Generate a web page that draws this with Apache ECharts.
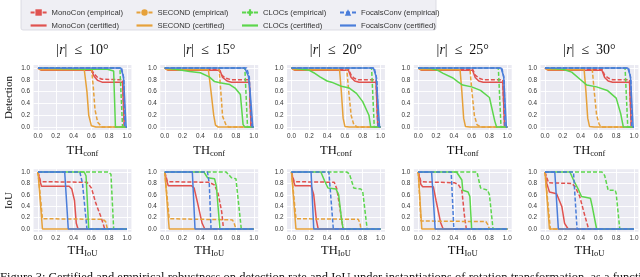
<!DOCTYPE html>
<html><head><meta charset="utf-8">
<script src="https://cdn.jsdelivr.net/npm/echarts@6/dist/echarts.min.js"></script>
<style>html,body{margin:0;padding:0;background:#fff}#c{width:640px;height:277px}</style>
</head><body><div id="c"></div><script>
// ---------- labels ----------
const methods = ['MonoCon', 'SECOND', 'CLOCs', 'FocalsConv'];
const angles = ['10', '15', '20', '25', '30'];
const xTicks = [0, 0.2, 0.4, 0.6, 0.8, 1.0];
const yTicks = [0, 0.2, 0.4, 0.6, 0.8, 1.0];
const rowNames = ['Detection', 'IoU'];
const xNameSubs = ['conf', 'IoU'];
const caption = 'Figure 3: Certified and empirical robustness on detection rate and IoU under instantiations of rotation transformation, as a function of the thresholds.';

// ---------- Detection row (x = TH_conf) ----------
const det10MonoEmp  = [[0,1],[0.05,0.98],[0.6,0.98],[0.63,0.9],[0.67,0.84],[0.72,0.81],[0.95,0.8],[0.97,0],[1,0]];
const det10MonoCert = [[0,1],[0.04,0.96],[0.6,0.96],[0.63,0.86],[0.67,0.79],[0.72,0.76],[0.95,0.76],[0.97,0],[1,0]];
const det10SecEmp   = [[0,1],[0.6,1],[0.62,0.7],[0.64,0.3],[0.67,0.08],[0.72,0],[1,0]];
const det10SecCert  = [[0,1],[0.03,0.97],[0.52,0.97],[0.55,0.6],[0.57,0.2],[0.6,0.02],[0.65,0],[1,0]];
const det10ClocsEmp = [[0,1],[0.92,1],[0.95,0],[1,0]];
const det10ClocsCert= [[0,1],[0.55,0.98],[0.78,0.98],[0.85,0.95],[0.87,0],[1,0]];
const det10FocEmp   = [[0,1],[0.94,1],[0.965,0.8],[0.975,0],[1,0]];
const det10FocCert  = [[0,1],[0.93,1],[0.96,0.86],[0.99,0],[1,0]];

const det15MonoEmp  = [[0,1],[0.05,0.98],[0.6,0.98],[0.64,0.88],[0.68,0.83],[0.75,0.8],[0.95,0.8],[0.97,0],[1,0]];
const det15MonoCert = [[0,1],[0.04,0.96],[0.62,0.96],[0.65,0.84],[0.7,0.78],[0.75,0.76],[0.95,0.76],[0.97,0],[1,0]];
const det15SecEmp   = [[0,1],[0.61,1],[0.63,0.6],[0.65,0.18],[0.69,0.03],[0.72,0],[1,0]];
const det15SecCert  = [[0,1],[0.03,0.97],[0.49,0.97],[0.52,0.6],[0.55,0.2],[0.57,0.03],[0.6,0],[1,0]];
const det15ClocsEmp = [[0,1],[0.9,1],[0.93,0],[1,0]];
const det15ClocsCert= [[0,1],[0.12,0.98],[0.28,0.94],[0.4,0.92],[0.5,0.85],[0.56,0.77],[0.62,0.75],[0.73,0.72],[0.79,0.66],[0.85,0.55],[0.88,0.04],[0.9,0],[1,0]];
const det15FocEmp   = [[0,1],[0.92,1],[0.95,0.85],[0.97,0.2],[0.98,0],[1,0]];
const det15FocCert  = [[0,1],[0.9,1],[0.94,0.86],[0.96,0.58],[0.99,0],[1,0]];

const det20MonoEmp  = [[0,1],[0.05,0.98],[0.64,0.98],[0.67,0.88],[0.7,0.83],[0.75,0.8],[0.95,0.8],[0.97,0],[1,0]];
const det20MonoCert = [[0,1],[0.04,0.96],[0.64,0.96],[0.67,0.84],[0.71,0.78],[0.76,0.76],[0.95,0.76],[0.97,0],[1,0]];
const det20SecEmp   = [[0,1],[0.62,1],[0.64,0.65],[0.67,0.2],[0.7,0.04],[0.74,0],[1,0]];
const det20SecCert  = [[0,1],[0.03,0.97],[0.54,0.97],[0.56,0.6],[0.58,0.15],[0.6,0.01],[0.65,0],[1,0]];
const det20ClocsEmp = [[0,1],[0.9,1],[0.93,0],[1,0]];
const det20ClocsCert= [[0,1],[0.12,0.98],[0.2,0.96],[0.25,0.92],[0.32,0.85],[0.4,0.78],[0.45,0.76],[0.56,0.69],[0.65,0.66],[0.73,0.57],[0.8,0.43],[0.87,0.2],[0.89,0],[1,0]];
const det20FocEmp   = [[0,1],[0.93,1],[0.96,0.8],[0.975,0],[1,0]];
const det20FocCert  = [[0,1],[0.92,1],[0.95,0.86],[0.99,0],[1,0]];

const det25MonoEmp  = [[0,1],[0.05,0.98],[0.61,0.98],[0.64,0.88],[0.68,0.83],[0.73,0.8],[0.95,0.8],[0.97,0],[1,0]];
const det25MonoCert = [[0,1],[0.04,0.96],[0.61,0.96],[0.64,0.84],[0.68,0.78],[0.73,0.76],[0.95,0.76],[0.97,0],[1,0]];
const det25SecEmp   = [[0,1],[0.58,1],[0.6,0.65],[0.63,0.2],[0.66,0.04],[0.7,0],[1,0]];
const det25SecCert  = [[0,1],[0.03,0.97],[0.47,0.97],[0.49,0.6],[0.51,0.15],[0.53,0.01],[0.58,0],[1,0]];
const det25ClocsEmp = [[0,1],[0.9,1],[0.93,0],[1,0]];
const det25ClocsCert= [[0,1],[0.15,0.99],[0.22,0.96],[0.28,0.91],[0.39,0.83],[0.45,0.76],[0.5,0.71],[0.6,0.68],[0.7,0.62],[0.8,0.5],[0.86,0.1],[0.88,0],[1,0]];
const det25FocEmp   = [[0,1],[0.94,1],[0.965,0.8],[0.975,0],[1,0]];
const det25FocCert  = [[0,1],[0.93,1],[0.96,0.86],[0.99,0],[1,0]];

const det30MonoEmp  = [[0,1],[0.05,0.98],[0.64,0.98],[0.67,0.88],[0.71,0.83],[0.76,0.8],[0.95,0.8],[0.97,0],[1,0]];
const det30MonoCert = [[0,1],[0.04,0.96],[0.64,0.96],[0.67,0.84],[0.71,0.78],[0.76,0.76],[0.95,0.76],[0.97,0],[1,0]];
const det30SecEmp   = [[0,1],[0.53,1],[0.55,0.65],[0.58,0.2],[0.61,0.04],[0.64,0],[1,0]];
const det30SecCert  = [[0,1],[0.03,0.97],[0.44,0.97],[0.46,0.6],[0.48,0.15],[0.5,0.01],[0.55,0],[1,0]];
const det30ClocsEmp = [[0,1],[0.9,1],[0.93,0],[1,0]];
const det30ClocsCert= [[0,1],[0.2,0.98],[0.3,0.93],[0.4,0.8],[0.47,0.71],[0.58,0.68],[0.7,0.62],[0.8,0.49],[0.85,0.23],[0.88,0],[1,0]];
const det30FocEmp   = [[0,1],[0.94,1],[0.965,0.8],[0.975,0],[1,0]];
const det30FocCert  = [[0,1],[0.93,1],[0.96,0.86],[0.99,0],[1,0]];

// ---------- IoU row (x = TH_IoU) ----------
const iou10MonoEmp  = [[0,1],[0.03,0.83],[0.05,0.82],[0.55,0.82],[0.6,0.72],[0.65,0.45],[0.71,0.2],[0.75,0],[1,0]];
const iou10MonoCert = [[0,1],[0.02,0.85],[0.04,0.75],[0.35,0.75],[0.38,0.7],[0.41,0.5],[0.43,0.1],[0.45,0],[1,0]];
const iou10SecEmp   = [[0,1],[0.05,0.18],[0.73,0.17],[0.76,0.13],[0.78,0],[1,0]];
const iou10SecCert  = [[0,1],[0.05,0],[1,0]];
const iou10ClocsEmp = [[0,1],[0.79,1],[0.82,0.96],[0.85,0],[1,0]];
const iou10ClocsCert= [[0,1],[0.52,1],[0.54,0.93],[0.57,0],[1,0]];
const iou10FocEmp   = [[0,1],[0.47,1],[0.5,0.8],[0.55,0],[1,0]];
const iou10FocCert  = [[0,1],[0.3,1],[0.34,0],[1,0]];

const iou15MonoEmp  = [[0,1],[0.03,0.83],[0.05,0.82],[0.5,0.82],[0.56,0.77],[0.6,0.62],[0.64,0.3],[0.66,0],[1,0]];
const iou15MonoCert = [[0,1],[0.02,0.85],[0.04,0.76],[0.3,0.76],[0.33,0.72],[0.37,0.45],[0.42,0.1],[0.45,0],[1,0]];
const iou15SecEmp   = [[0,1],[0.05,0.18],[0.76,0.16],[0.78,0.1],[0.8,0],[1,0]];
const iou15SecCert  = [[0,1],[0.05,0],[1,0]];
const iou15ClocsEmp = [[0,1],[0.69,1],[0.75,0.9],[0.8,0.88],[0.82,0.85],[0.86,0],[1,0]];
const iou15ClocsCert= [[0,1],[0.44,1],[0.48,0.9],[0.56,0.88],[0.58,0.75],[0.62,0],[1,0]];
const iou15FocEmp   = [[0,1],[0.48,1],[0.5,0.8],[0.52,0],[1,0]];
const iou15FocCert  = [[0,1],[0.31,1],[0.34,0],[1,0]];

const iou20MonoEmp  = [[0,1],[0.03,0.83],[0.05,0.82],[0.48,0.82],[0.51,0.7],[0.56,0.2],[0.58,0],[1,0]];
const iou20MonoCert = [[0,1],[0.02,0.85],[0.04,0.76],[0.22,0.76],[0.25,0.6],[0.28,0.15],[0.3,0],[1,0]];
const iou20SecEmp   = [[0,1],[0.05,0.18],[0.75,0.17],[0.77,0.1],[0.78,0],[1,0]];
const iou20SecCert  = [[0,1],[0.05,0],[1,0]];
const iou20ClocsEmp = [[0,1],[0.62,1],[0.65,0.97],[0.7,0.72],[0.78,0.7],[0.8,0.66],[0.85,0],[1,0]];
const iou20ClocsCert= [[0,1],[0.33,1],[0.37,0.85],[0.41,0.72],[0.5,0.7],[0.53,0.6],[0.56,0.2],[0.58,0],[1,0]];
const iou20FocEmp   = [[0,1],[0.42,1],[0.44,0.6],[0.47,0],[1,0]];
const iou20FocCert  = [[0,1],[0.22,1],[0.25,0],[1,0]];

const iou25MonoEmp  = [[0,1],[0.03,0.83],[0.05,0.81],[0.41,0.81],[0.45,0.78],[0.49,0.68],[0.52,0.22],[0.54,0],[1,0]];
const iou25MonoCert = [[0,1],[0.03,0.78],[0.05,0.74],[0.17,0.74],[0.2,0.5],[0.25,0.12],[0.28,0],[1,0]];
const iou25SecEmp   = [[0,1],[0.03,0.14],[0.76,0.13],[0.78,0.08],[0.8,0],[1,0]];
const iou25SecCert  = [[0,1],[0.04,0],[1,0]];
const iou25ClocsEmp = [[0,1],[0.66,1],[0.7,0.72],[0.78,0.68],[0.8,0.6],[0.84,0],[1,0]];
const iou25ClocsCert= [[0,1],[0.43,1],[0.49,0.86],[0.5,0.68],[0.56,0.65],[0.58,0.57],[0.6,0],[1,0]];
const iou25FocEmp   = [[0,1],[0.37,1],[0.4,0],[1,0]];
const iou25FocCert  = [[0,1],[0.15,1],[0.19,0],[1,0]];

const iou30MonoEmp  = [[0,1],[0.04,0.81],[0.3,0.8],[0.34,0.74],[0.39,0.57],[0.45,0.22],[0.49,0],[1,0]];
const iou30MonoCert = [[0,1],[0.02,0.8],[0.05,0.65],[0.13,0.62],[0.19,0.39],[0.22,0.1],[0.26,0],[1,0]];
const iou30SecEmp   = [[0,1],[0.06,0],[1,0]];
const iou30SecCert  = [[0,1],[0.05,0],[1,0]];
const iou30ClocsEmp = [[0,1],[0.64,1],[0.67,0.94],[0.71,0.68],[0.79,0.68],[0.8,0.62],[0.84,0],[1,0]];
const iou30ClocsCert= [[0,1],[0.28,1],[0.32,0.86],[0.37,0.71],[0.41,0.57],[0.43,0.54],[0.51,0.54],[0.53,0.4],[0.58,0],[1,0]];
const iou30FocEmp   = [[0,1],[0.32,1],[0.36,0],[1,0]];
const iou30FocCert  = [[0,1],[0.11,1],[0.15,0],[1,0]];

const panels = [
  [det10MonoEmp,det10MonoCert,det10SecEmp,det10SecCert,det10ClocsEmp,det10ClocsCert,det10FocEmp,det10FocCert],
  [det15MonoEmp,det15MonoCert,det15SecEmp,det15SecCert,det15ClocsEmp,det15ClocsCert,det15FocEmp,det15FocCert],
  [det20MonoEmp,det20MonoCert,det20SecEmp,det20SecCert,det20ClocsEmp,det20ClocsCert,det20FocEmp,det20FocCert],
  [det25MonoEmp,det25MonoCert,det25SecEmp,det25SecCert,det25ClocsEmp,det25ClocsCert,det25FocEmp,det25FocCert],
  [det30MonoEmp,det30MonoCert,det30SecEmp,det30SecCert,det30ClocsEmp,det30ClocsCert,det30FocEmp,det30FocCert],
  [iou10MonoEmp,iou10MonoCert,iou10SecEmp,iou10SecCert,iou10ClocsEmp,iou10ClocsCert,iou10FocEmp,iou10FocCert],
  [iou15MonoEmp,iou15MonoCert,iou15SecEmp,iou15SecCert,iou15ClocsEmp,iou15ClocsCert,iou15FocEmp,iou15FocCert],
  [iou20MonoEmp,iou20MonoCert,iou20SecEmp,iou20SecCert,iou20ClocsEmp,iou20ClocsCert,iou20FocEmp,iou20FocCert],
  [iou25MonoEmp,iou25MonoCert,iou25SecEmp,iou25SecCert,iou25ClocsEmp,iou25ClocsCert,iou25FocEmp,iou25FocCert],
  [iou30MonoEmp,iou30MonoCert,iou30SecEmp,iou30SecCert,iou30ClocsEmp,iou30ClocsCert,iou30FocEmp,iou30FocCert]
];

// ---------- style / layout ----------
const colors = ['#E0524F', '#E6A13A', '#5CD64C', '#4A7DDA'];
const symbols = ['rect', 'circle', 'path://M2,0h2v2h2v2h-2v2h-2v-2h-2v-2h2z', 'triangle'];
const X0 = 38, DX = 126.75, W = 89;
const rowY1 = [68, 172], rowY0 = [127, 229];
const serif = 'Liberation Serif';
const sans = 'Liberation Sans';

const grids = [], xAxes = [], yAxes = [], series = [], graphics = [];
for (let r = 0; r < 2; r++) {
  for (let c = 0; c < 5; c++) {
    const p = r * 5 + c;
    const H = rowY0[r] - rowY1[r];
    grids.push({
      left: X0 + c * DX - 0.05 * W, width: 1.1 * W,
      top: rowY1[r] - 0.05 * H, height: 1.1 * H,
      show: true, backgroundColor: '#EAEAF2', borderWidth: 0,
      containLabel: false, outerBoundsMode: 'none'
    });
    xAxes.push({
      type: 'value', gridIndex: p, min: -0.05, max: 1.05,
      axisLine: { show: false, onZero: false },
      axisTick: { show: false, customValues: xTicks },
      axisLabel: { customValues: xTicks, formatter: v => v.toFixed(1), fontSize: 6.4, color: '#333', fontFamily: sans, margin: 3 },
      splitLine: { show: true, lineStyle: { color: '#fff', width: 0.9 } },
      name: '{a|TH}{b|' + xNameSubs[r] + '}', nameLocation: 'middle', nameGap: r === 0 ? 13 : 11,
      nameTextStyle: { rich: {
        a: { fontFamily: serif, fontSize: 12.5, color: '#111' },
        b: { fontFamily: serif, fontSize: 8.5, color: '#111', padding: [6, 0, 0, 0] }
      } }
    });
    yAxes.push({
      type: 'value', gridIndex: p, min: -0.05, max: 1.05,
      axisLine: { show: false, onZero: false },
      axisTick: { show: false, customValues: yTicks },
      axisLabel: { customValues: yTicks, formatter: v => v.toFixed(1), fontSize: 6.4, color: '#333', fontFamily: sans, margin: 3.5 },
      splitLine: { show: true, lineStyle: { color: '#fff', width: 0.9 } },
      name: c === 0 ? rowNames[r] : '', nameLocation: 'middle', nameGap: 19, nameRotate: 90,
      nameTextStyle: { fontFamily: serif, fontSize: 11, color: '#111' }
    });
    panels[p].forEach((d, k) => {
      const m = k >> 1, emp = (k % 2 === 0);
      series.push({
        type: 'line', name: methods[m] + (emp ? ' (empirical)' : ' (certified)'),
        xAxisIndex: p, yAxisIndex: p, data: d,
        symbol: emp ? symbols[m] : 'none', showSymbol: false, symbolSize: 6,
        lineStyle: { color: colors[m], width: 1.5, type: emp ? [4, 2] : 'solid' },
        itemStyle: { color: colors[m] },
        animation: false, silent: true, clip: false
      });
    });
  }
}

// titles
angles.forEach((a, c) => {
  graphics.push({
    type: 'text', x: X0 + c * DX + W / 2, y: 50,
    style: {
      text: '{n||}{i|r}{n||  ≤  ' + a + '°}',
      textAlign: 'center', textVerticalAlign: 'middle',
      rich: {
        n: { fontFamily: serif, fontSize: 14, fill: '#111' },
        i: { fontFamily: serif, fontSize: 14, fontStyle: 'italic', fill: '#111' }
      }
    }
  });
});
// legend frame
graphics.push({
  type: 'rect', z: -1, shape: { x: 21, y: -3, width: 415, height: 33, r: 2 },
  style: { fill: '#EFEFF4', stroke: '#D6D6DE', lineWidth: 0.8 }
});
// caption (cut by the figure bottom)
graphics.push({
  type: 'text', x: 0, y: 271,
  style: { text: caption, fontFamily: serif, fontSize: 12.5, fill: '#111', textVerticalAlign: 'top' }
});

const legendLeft = [24.6, 130.5, 236, 334];
const legends = methods.map((m, i) => ({
  orient: 'vertical', left: legendLeft[i], top: 2.5,
  itemWidth: 16, itemHeight: 8, itemGap: 3, symbolKeepAspect: true,
  data: [
    { name: m + ' (empirical)' },
    { name: m + ' (certified)', icon: 'path://M0,0h16v2.2h-16z' }
  ],
  textStyle: { fontFamily: sans, fontSize: 7.7, color: '#333', lineHeight: 10 },
  selectedMode: false
}));

const chart = echarts.init(document.getElementById('c'), null, { renderer: 'canvas' });
chart.setOption({
  backgroundColor: '#fff',
  animation: false,
  grid: grids, xAxis: xAxes, yAxis: yAxes, series: series,
  legend: legends, graphic: graphics
});
</script></body></html>
